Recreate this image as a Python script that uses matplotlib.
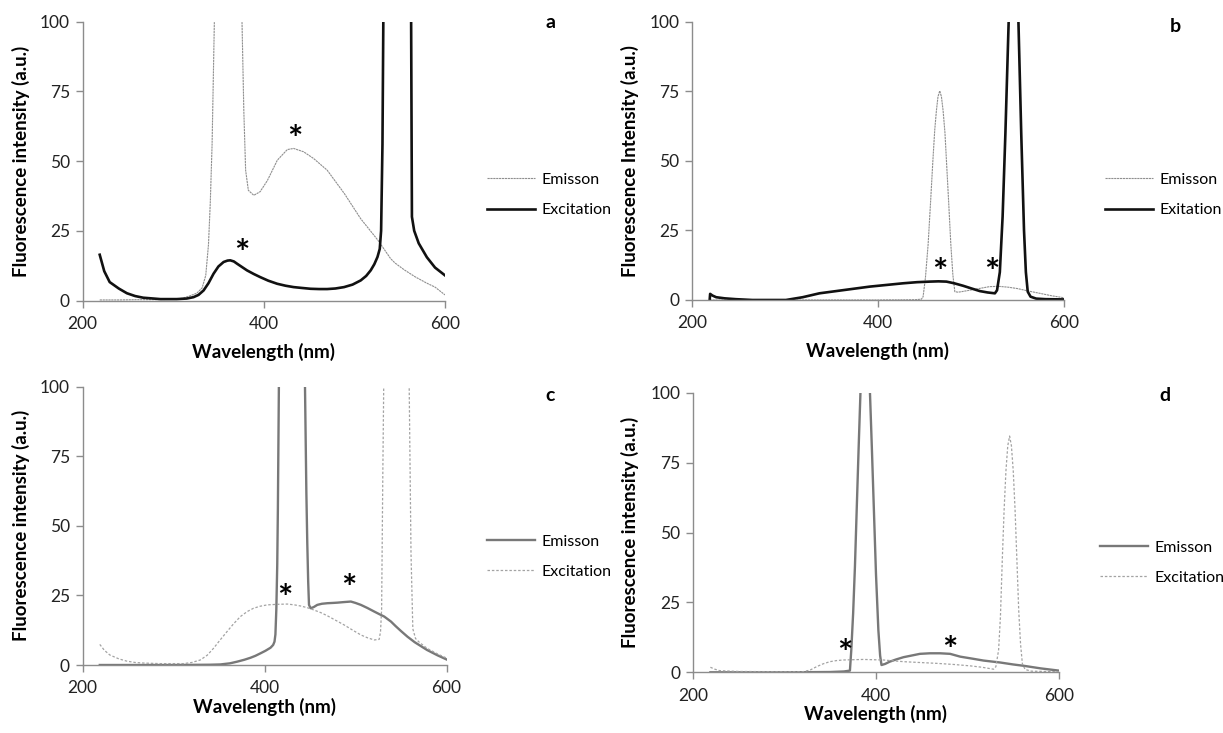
import matplotlib
matplotlib.use("Agg")
import matplotlib.pyplot as plt

plt.rcParams['font.family'] = ['Lato', 'DejaVu Sans']

# ---- panel a ----
wl_a_em = [219, 240, 260, 280, 300, 310, 318, 326, 332, 336, 339, 341, 343, 345.5, 350, 361, 372,
           376, 378, 380, 383, 389, 396, 404, 415, 426, 433, 444, 455, 470, 489, 507, 526, 540,
           545, 555, 567, 580, 589, 600]
em_a = [0.2, 0.2, 0.3, 0.3, 0.4, 0.8, 1.6, 2.6, 4.5, 9, 20, 35, 56, 100, 200, 300, 200,
        100, 68, 46.7, 39.5, 37.7, 39, 43, 50.3, 54.1, 54.5, 53.3, 50.9, 46.7, 38.3, 29.3, 21.6, 15,
        13.4, 11, 8.5, 6.2, 4.8, 2.0]
wl_a_ex = [219, 224, 230, 240, 249, 258, 267, 286, 304, 315, 322.5, 328, 333.6, 339, 344.6, 350,
           355.7, 360, 363, 367, 370.5, 376, 381.5, 389, 396, 405, 414.8, 424, 433, 442, 451.7,
           461, 470, 479, 488.6, 498, 507, 513, 518, 522, 525.5, 528, 529.5, 531, 533, 547, 562,
           563.5, 566, 571, 580, 589, 600]
ex_a = [16.4, 10.5, 6.6, 4.3, 2.6, 1.6, 1.0, 0.5, 0.5, 0.7, 1.2, 2.0, 3.6, 6.2, 9.6, 12.2,
        13.8, 14.3, 14.4, 14.0, 13.2, 12.0, 10.8, 9.5, 8.4, 7.1, 6.0, 5.3, 4.8, 4.5, 4.2,
        4.1, 4.1, 4.3, 4.8, 5.7, 7.2, 8.8, 10.8, 13.0, 15.6, 18.5, 25, 56, 150, 1000, 150,
        30, 25, 20.5, 15.5, 11.8, 9.0]
stars_a = [(434.5, 61), (375.7, 19.9)]

# ---- panel b ----
wl_b_em = [219, 250, 300, 350, 400, 440, 446.7, 448.5, 451, 453.9, 456.5, 459, 461, 462.8, 464.5,
           466.4, 468.2, 470, 472, 473.6, 476, 478.3, 480.5, 482.6, 486, 490, 500, 510, 520, 530,
           540, 550, 562, 574, 587, 600]
em_b = [0, 0, 0, 0, 0, 0.1, 0.3, 1.2, 8, 20, 35, 50, 61, 68, 73,
        75.1, 73, 68, 60, 50, 35, 20, 9, 3.0, 2.8, 3.0, 3.6, 4.2, 4.8, 4.9,
        4.6, 4.1, 3.2, 2.4, 1.5, 0.8]
wl_b_ex = [219, 219.5, 222, 226, 235, 247, 265, 301, 319, 337, 355, 373, 391, 409, 427, 442,
           455.7, 465, 473.6, 482, 491.6, 500, 509.5, 518, 525.7, 528, 531, 534, 537, 540.5, 546,
           551, 554, 557, 559, 561, 564, 570, 580, 600]
ex_b = [0, 2.2, 1.6, 1.0, 0.6, 0.3, 0, 0, 1.0, 2.4, 3.2, 4.0, 4.8, 5.4, 6.0, 6.4,
        6.6, 6.7, 6.6, 6.0, 5.1, 4.2, 3.2, 2.7, 2.4, 3.5, 10, 30, 60, 100, 250,
        100, 60, 25, 10, 3, 1.2, 0.5, 0.3, 0.2]
stars_b = [(466, 12.9), (522, 12.9)]

# ---- panel c ----
wl_c_em = [219, 250, 300, 340, 351.5, 362, 370, 378, 384.6, 390, 395.6, 401, 406.6, 409.5, 411,
           412, 413, 414, 414.7, 415.8, 420, 430, 440, 444.5, 446, 447, 448, 448.9, 450.7, 454,
           458, 463, 469, 475, 480, 487, 494.9, 500, 505.9, 513, 520.6, 526, 531.6, 539, 544,
           550, 557, 565, 578.6, 590, 600]
em_c = [0, 0, 0, 0.1, 0.2, 0.6, 1.2, 1.9, 2.6, 3.3, 4.2, 5.1, 6.2, 7.2, 8.4,
        11, 20, 36, 56, 100, 250, 400, 250, 100, 62, 44, 30, 21.6, 20.4, 20.8,
        21.6, 22.0, 22.2, 22.3, 22.4, 22.6, 22.8, 22.3, 21.6, 20.5, 19.2, 18.3, 17.4, 15.6, 14.0,
        12.2, 10.2, 8.2, 5.4, 3.5, 2.0]
wl_c_ex = [219, 224, 230, 240, 248.5, 258, 267, 285, 311, 320, 329.4, 337, 344, 351, 358.8, 366,
           373.5, 381, 388, 395, 403, 414, 425, 433, 439.7, 447, 454, 462, 469, 478, 487.5, 497,
           505.9, 513, 520.6, 526, 527.5, 528.7, 530, 531, 545, 559, 561, 563, 566, 570, 578.6,
           590, 600]
ex_c = [7.4, 5.3, 3.6, 2.2, 1.4, 0.9, 0.7, 0.5, 0.5, 0.9, 1.8, 3.5, 6.0, 8.9, 12.0, 14.8,
        17.4, 19.2, 20.4, 21.1, 21.6, 21.8, 21.9, 21.6, 21.2, 20.6, 19.8, 18.8, 17.7, 16.1, 14.4, 12.5,
        10.8, 9.8, 9.0, 9.2, 12, 20, 68, 100, 300, 100, 40, 13, 9.5, 8.2, 6.0,
        4.0, 2.5]
stars_c = [(422.5, 27), (493, 30.5)]

# ---- panel d ----
wl_d_em = [219, 250, 300, 350, 365, 371.5, 373, 375, 377, 378.8, 381, 383, 388, 393.4, 395.5,
           397.8, 400, 402.6, 404.5, 406, 410, 415, 422, 430, 439, 448, 459, 470, 481, 492, 505,
           517.5, 535.8, 550, 562, 580, 600]
em_d = [0, 0, 0, 0.1, 0.3, 0.6, 8, 21, 38, 57, 80, 100, 140, 100, 80,
        57, 35, 15, 6, 2.6, 3.0, 3.8, 4.6, 5.4, 6.0, 6.6, 6.8, 6.8, 6.6, 5.6, 4.9,
        4.2, 3.5, 2.8, 2.3, 1.4, 0.6]
wl_d_ex = [219, 224, 229, 250, 300, 320, 328, 335, 342, 349.6, 357, 364, 375, 386, 397, 408, 419,
           430, 448, 466.4, 485, 503, 516, 528.5, 531, 534, 536, 538, 540, 542, 544, 546, 548,
           550, 552, 554, 556, 558, 560, 563, 570, 585, 600]
ex_d = [1.8, 1.1, 0.6, 0.3, 0.2, 0.2, 0.8, 2.0, 3.0, 3.8, 4.2, 4.4, 4.5, 4.6, 4.5, 4.4, 4.1,
        3.8, 3.5, 3.2, 2.8, 2.3, 1.8, 1.1, 2.0, 8, 20, 40, 58, 72, 81, 84.5, 81,
        72, 58, 40, 22, 10, 3, 1, 0.4, 0.3, 0.2]
stars_d = [(366, 9.8), (481, 10.9)]

x_ticks = [200, 400, 600]
y_ticks = [0, 25, 50, 75, 100]

# line styles
thin_grey = dict(color='#8f8f8f', lw=0.8, ls=(0, (2, 0.6)))
thick_black = dict(color='#111111', lw=1.9, ls='-')
mid_grey = dict(color='#787878', lw=1.7, ls='-')
dashed_grey = dict(color='#a3a3a3', lw=0.9, ls=(0, (2, 1.5)))

W, H = 1223, 733
fig = plt.figure(figsize=(W / 100, H / 100), dpi=100)


def px_axes(left, right, top, bottom):
    return fig.add_axes([left / W, 1 - bottom / H, (right - left) / W, (bottom - top) / H])


panels = [
    dict(box=(82.5, 445, 21.5, 300.5), em=(wl_a_em, em_a, thin_grey), ex=(wl_a_ex, ex_a, thick_black),
         labels=('Emisson', 'Excitation'), ylabel='Fluorescence intensity (a.u.)', stars=stars_a,
         letter=('a', 550, 23), leg=(487, 195), ylx=-0.145, xly=-0.152),
    dict(box=(692, 1064, 21.5, 300), em=(wl_b_em, em_b, thin_grey), ex=(wl_b_ex, ex_b, thick_black),
         labels=('Emisson', 'Exitation'), ylabel='Fluorescence Intensity (a.u.)', stars=stars_b,
         letter=('b', 1175, 27), leg=(1105, 195), ylx=-0.142, xly=-0.152),
    dict(box=(82.5, 446.5, 386.7, 665), em=(wl_c_em, em_c, mid_grey), ex=(wl_c_ex, ex_c, dashed_grey),
         labels=('Emisson', 'Excitation'), ylabel='Fluorescence intensity (a.u.)', stars=stars_c,
         letter=('c', 550, 395), leg=(487, 556.5), ylx=-0.145, xly=-0.119),
    dict(box=(693, 1059, 392.7, 672.3), em=(wl_d_em, em_d, mid_grey), ex=(wl_d_ex, ex_d, dashed_grey),
         labels=('Emisson', 'Excitation'), ylabel='Fluorescence intensity (a.u.)', stars=stars_d,
         letter=('d', 1165, 395), leg=(1100, 562.5), ylx=-0.148, xly=-0.117),
]

for p in panels:
    ax = px_axes(*p['box'])
    wl, y, st = p['em']
    l1, = ax.plot(wl, y, label=p['labels'][0], **st)
    wl, y, st = p['ex']
    l2, = ax.plot(wl, y, label=p['labels'][1], **st)

    ax.set_xlim(200, 600)
    ax.set_ylim(0, 100)
    ax.set_xticks(x_ticks)
    ax.set_yticks(y_ticks)
    for side in ['top', 'right']:
        ax.spines[side].set_visible(False)
    for side in ['left', 'bottom']:
        ax.spines[side].set_color('#8c8c8c')
        ax.spines[side].set_linewidth(1.0)
    ax.tick_params(direction='out', length=5, width=1.0, color='#8c8c8c',
                   labelsize=12.5, labelcolor='#222222')
    ax.tick_params(axis='x', pad=6)
    ax.tick_params(axis='y', pad=4)

    ax.set_xlabel('Wavelength (nm)', fontsize=13.5, fontweight='bold')
    ax.set_ylabel(p['ylabel'], fontsize=13.5, fontweight='bold')
    ax.xaxis.set_label_coords(0.5, p['xly'])
    ax.yaxis.set_label_coords(p['ylx'], 0.5)

    for sx, sy in p['stars']:
        ax.annotate('*', (sx, sy), xytext=(0, -7), textcoords='offset points',
                    ha='center', va='center', fontsize=26, fontweight='bold')

    letter, lx, ly = p['letter']
    fig.text(lx / W, 1 - ly / H, letter, ha='center', va='center', fontsize=14, fontweight='bold')

    gx, gy = p['leg']
    ax.legend(handles=[l1, l2], loc='center left', bbox_to_anchor=(gx / W, 1 - gy / H),
              bbox_transform=fig.transFigure, frameon=False, fontsize=11.5, borderpad=0,
              borderaxespad=0, handlelength=3.0, handletextpad=0.4, labelspacing=1.0)

fig.savefig('out.png', dpi=100)
